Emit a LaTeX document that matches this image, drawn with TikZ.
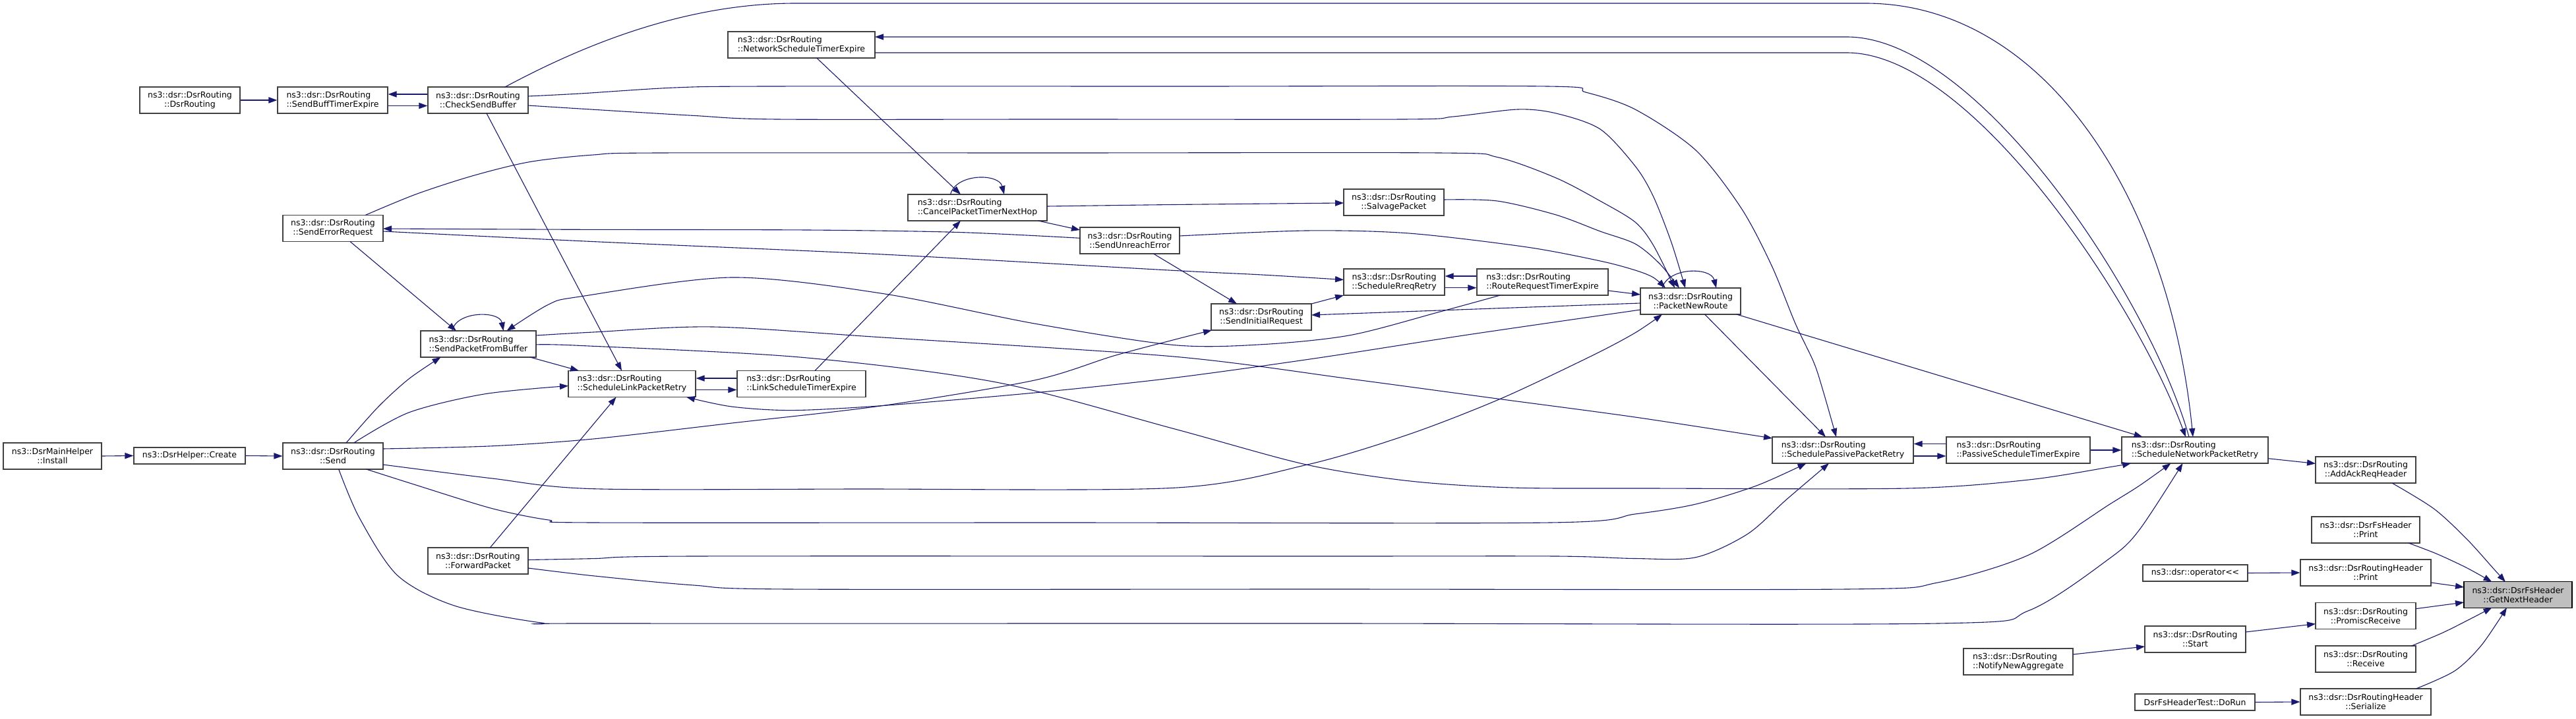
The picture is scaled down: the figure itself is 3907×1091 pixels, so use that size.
\documentclass[tikz,border=0pt]{standalone}
\usepackage{fontspec}
\usetikzlibrary{arrows.meta,calc}
\newfontfamily\dejavu{DejaVu Sans}
\newcommand\gfont{\dejavu\fontsize{6.25pt}{7pt}\selectfont}
\definecolor{mblue}{HTML}{191970}
\definecolor{nborder}{HTML}{404040}
\definecolor{rootfill}{HTML}{BFBFBF}
\tikzset{
  fn/.style={draw=nborder, line width=0.6pt, fill=white, inner sep=0pt, minimum height=20pt, font=\gfont, align=center, text=black},
  fnl/.style={fn, align=left},
  one/.style={minimum height=12.5pt},
  ed/.style={draw=mblue, line width=0.55pt, -{Triangle[length=6.5pt,width=4.6pt]}},
}
\begin{document}
\begin{tikzpicture}[x=0.5pt,y=-0.5pt]
\path[use as bounding box, fill=white] (0,0) rectangle (3907,1091);

% nodes
\node[fn, minimum width=74.5pt] (Install) at (79.5,692) {ns3::DsrMainHelper\\::Install};
\node[fn, one, minimum width=84.5pt] (Create) at (287.5,691.5) {ns3::DsrHelper::Create};
\node[fn, minimum width=76pt] (Send) at (505,692) {ns3::dsr::DsrRouting\\::Send};
\node[fn, minimum width=76pt] (DsrR) at (288,152) {ns3::dsr::DsrRouting\\::DsrRouting};
\node[fnl, minimum width=83.5pt] (SBTE) at (504.5,152) {ns3::dsr::DsrRouting\\::SendBuffTimerExpire};
\node[fn, minimum width=76pt] (CSB) at (725,152) {ns3::dsr::DsrRouting\\::CheckSendBuffer};
\node[fn, minimum width=76pt] (SER) at (505,346.5) {ns3::dsr::DsrRouting\\::SendErrorRequest};
\node[fnl, minimum width=87.5pt] (SPFB) at (725.5,522) {ns3::dsr::DsrRouting\\::SendPacketFromBuffer};
\node[fn, minimum width=76pt] (FP) at (725,851) {ns3::dsr::DsrRouting\\::ForwardPacket};
\node[fnl, minimum width=96.5pt] (SLPR) at (958.5,582.5) {ns3::dsr::DsrRouting\\::ScheduleLinkPacketRetry};
\node[fnl, minimum width=97.5pt] (LSTE) at (1215.5,582.5) {ns3::dsr::DsrRouting\\::LinkScheduleTimerExpire};
\node[fnl, minimum width=111.5pt] (NSTE) at (1215.5,68) {ns3::dsr::DsrRouting\\::NetworkScheduleTimerExpire};
\node[fnl, minimum width=105.5pt] (CPTNH) at (1482.5,315) {ns3::dsr::DsrRouting\\::CancelPacketTimerNextHop};
\node[fn, minimum width=75.5pt] (SUE) at (1713.5,365) {ns3::dsr::DsrRouting\\::SendUnreachError};
\node[fn, minimum width=76pt] (SP) at (2114,307) {ns3::dsr::DsrRouting\\::SalvagePacket};
\node[fn, minimum width=76.5pt] (SRR) at (2114.5,428) {ns3::dsr::DsrRouting\\::ScheduleRreqRetry};
\node[fnl, minimum width=99.5pt] (RRTE) at (2339.5,428) {ns3::dsr::DsrRouting\\::RouteRequestTimerExpire};
\node[fn, minimum width=76pt] (SIR) at (1913,481) {ns3::dsr::DsrRouting\\::SendInitialRequest};
\node[fn, minimum width=76pt] (PNR) at (2564,457) {ns3::dsr::DsrRouting\\::PacketNewRoute};
\node[fnl, minimum width=107pt] (SPPR) at (2795,683) {ns3::dsr::DsrRouting\\::SchedulePassivePacketRetry};
\node[fnl, minimum width=109pt] (PSTE) at (3061,683) {ns3::dsr::DsrRouting\\::PassiveScheduleTimerExpire};
\node[fnl, minimum width=83pt] (NNA) at (3061,1004) {ns3::dsr::DsrRouting\\::NotifyNewAggregate};
\node[fnl, minimum width=111pt] (SNPR) at (3329,683) {ns3::dsr::DsrRouting\\::ScheduleNetworkPacketRetry};
\node[fn, minimum width=76pt] (AARH) at (3588,713) {ns3::dsr::DsrRouting\\::AddAckReqHeader};
\node[fn, minimum width=82pt] (FSPrint) at (3588,804) {ns3::dsr::DsrFsHeader\\::Print};
\node[fn, one, minimum width=79.5pt] (OpLL) at (3329.5,869.5) {ns3::dsr::operator<{}<};
\node[fn, minimum width=99pt] (RHPrint) at (3588,869) {ns3::dsr::DsrRoutingHeader\\::Print};
\node[fn, draw=black, fill=rootfill, minimum width=82pt] (GNH) at (3819,902.5) {ns3::dsr::DsrFsHeader\\::GetNextHeader};
\node[fn, minimum width=76pt] (PR) at (3588,934.5) {ns3::dsr::DsrRouting\\::PromiscReceive};
\node[fn, minimum width=76.5pt] (Start) at (3329.5,970) {ns3::dsr::DsrRouting\\::Start};
\node[fn, minimum width=76pt] (Recv) at (3588,1000) {ns3::dsr::DsrRouting\\::Receive};
\node[fn, one, minimum width=91pt] (DoRun) at (3329,1065.5) {DsrFsHeaderTest::DoRun};
\node[fn, minimum width=99pt] (Ser) at (3588,1065) {ns3::dsr::DsrRoutingHeader\\::Serialize};

% straight / short edges
\draw[ed] (Install.east) -- (Create.west);
\draw[ed] (Create.east) -- (Send.west);
\draw[ed] (DsrR.east) -- (SBTE.west);
\draw[ed] ($(CSB.west)+(0,-9)$) -- ($(SBTE.east)+(0,-9)$);
\draw[ed] ($(SBTE.east)+(0,8.5)$) -- ($(CSB.west)+(0,8.5)$);
\draw[ed] ($(LSTE.west)+(0,-8.5)$) -- ($(SLPR.east)+(0,-8.5)$);
\draw[ed] ($(SLPR.east)+(0,9)$) -- ($(LSTE.west)+(0,9)$);
\draw[ed] ($(RRTE.west)+(0,-9)$) -- ($(SRR.east)+(0,-9)$);
\draw[ed] ($(SRR.east)+(0,8.7)$) -- ($(RRTE.west)+(0,8.7)$);
\draw[ed] ($(PSTE.west)+(0,-9.5)$) -- ($(SPPR.east)+(0,-9.5)$);
\draw[ed] ($(SPPR.east)+(0,9)$) -- ($(PSTE.west)+(0,9)$);
\draw[ed] (PSTE.east) -- (SNPR.west);
\draw[ed] ($(SNPR)+(111,12.7)$) -- ($(AARH)+(-76,-9.6)$);
\draw[ed] (OpLL.east) -- (RHPrint.west);
\draw[ed] (DoRun.east) -- (Ser.west);
\draw[ed] ($(RHPrint)+(99,15)$) -- ($(GNH)+(-82,-11.5)$);
\draw[ed] ($(PR)+(76,-10.8)$) -- ($(GNH)+(-82,11.5)$);
\draw[ed] ($(Start)+(76.5,-11)$) -- ($(PR)+(-76,12.1)$);
\draw[ed] ($(NNA)+(83,-11)$) -- ($(Start)+(-76.5,11)$);
\draw[ed] plot[smooth] coordinates {($(AARH)+(40,20)$) (3691.5,772) (3741,817.6) (3782,863) ($(GNH)+(-19,-19.5)$)};
\draw[ed] plot[smooth] coordinates {($(FSPrint)+(65,20)$) (3696,840.5) (3741,861.5) ($(GNH)+(-39.5,-19.5)$)};
\draw[ed] plot[smooth] coordinates {($(Recv)+(69.7,-20)$) (3705,960) (3745,940) ($(GNH)+(-39.5,19.5)$)};
\draw[ed] plot[smooth] coordinates {($(Ser)+(76.4,-20)$) (3723,1018) (3763.6,979) ($(GNH)+(-17,19.5)$)};

% self loops
\draw[ed] ($(CPTNH)+(-41,-20)$) .. controls (1450,262.7) and (1515,262.7) .. ($(CPTNH)+(40.5,-20)$);
\draw[ed] ($(SPFB)+(-40,-20)$) .. controls (692,471.3) and (758,471.3) .. ($(SPFB)+(38,-20)$);
\draw[ed] ($(PNR)+(-43,-20)$) .. controls (2530,405) and (2595,405) .. ($(PNR)+(39,-20)$);

% CheckSendBuffer edges
\draw[ed] ($(CSB)+(41,-20)$) .. controls (900,60) and (1050,5) .. (1207,5) -- (2829,5) .. controls (3100,5) and (3290,300) .. ($(SNPR)+(-3,-20)$);
\draw[ed] plot[smooth] coordinates {($(CSB)+(76,8)$) (880,165) (1052,175.4) (1178,181) (1600,181) (2128,181) (2204,177) (2302,166) (2360,172) (2427,196) (2480,252) (2507.5,298) (2535,368) ($(PNR)+(-8,-20)$)};
\draw[ed] plot[smooth] coordinates {($(CSB)+(76,-6)$) (880,142) (1023.5,133) (1167,131) (1800,131) (2347,131) (2405,140) (2480,166) (2572,228) (2641,316) (2687,403) (2723,491) (2751,550) (2765,593) ($(SPPR)+(-10,-20)$)};
\draw[ed] ($(CSB)+(13,20)$) -- ($(SLPR)+(-15.5,-20)$);

% NetworkScheduleTimerExpire edges
\draw[ed] ($(SNPR)+(-9,-20)$) .. controls (3260,450) and (3000,56) .. (2801,56) -- ($(NSTE)+(111.5,-12)$);
\draw[ed] ($(NSTE)+(111.5,12)$) -- (2801,80) .. controls (2990,80) and (3240,460) .. ($(SNPR)+(-14,-20)$);
\draw[ed] ($(NSTE)+(23.2,20)$) -- ($(CPTNH)+(-25.5,-20)$);

% CancelPacketTimerNextHop edges
\draw[ed] plot[smooth] coordinates {($(CPTNH)+(105.5,-2)$) (1780,310.5) ($(SP)+(-76,1)$)};
\draw[ed] ($(CPTNH)+(92,20)$) -- ($(SUE)+(-75.5,-16)$);
\draw[ed] ($(LSTE)+(20.5,-20)$) -- ($(CPTNH)+(-25.5,20)$);

% SendErrorRequest / SendUnreachError
\draw[ed] plot[smooth] coordinates {($(SER)+(49,-20)$) (631,294.7) (717.5,266.6) (803.6,245.6) (900,235) (1000,232) (1600,232) (2182,232) (2271,238.5) (2360,270) (2427,305) (2480,337) (2507.5,372) ($(PNR)+(-24,-20)$)};
\draw[ed] plot[smooth] coordinates {($(SUE)+(-75.5,-3.7)$) (1454,352.5) (1224,349) (880,348.3) ($(SER)+(76,0.5)$)};
\draw[ed] plot[smooth] coordinates {($(SER)+(76,4.5)$) (900,366.6) (1339,386) (1780,410.4) (1914,417) ($(SRR)+(-76.5,-3.5)$)};
\draw[ed] ($(SER)+(26,20)$) -- ($(SPFB)+(-33.5,-20)$);
\draw[ed] plot[smooth] coordinates {($(SUE)+(36,20)$) (1780,403.4) ($(SIR)+(-37,-20)$)};
\draw[ed] plot[smooth] coordinates {($(SUE)+(75.5,-7)$) (1981,350) (2137,354) (2316,375) (2427,396) (2480,410) (2507.5,421) ($(PNR)+(-38,-20)$)};

% SalvagePacket, SendInitialRequest, RouteRequestTimerExpire
\draw[ed] plot[smooth] coordinates {($(SP)+(76,-4)$) (2271,305) (2360,326) (2427,351) (2480,370) (2517,400) ($(PNR)+(-17,-20)$)};
\draw[ed] ($(SIR)+(76,-20)$) -- ($(SRR)+(-76.5,20)$);
\draw[ed] ($(RRTE)+(99.5,13)$) -- ($(PNR)+(-76,-10)$);
\draw[ed] plot[smooth] coordinates {($(RRTE)+(-64,20)$) (2182,473.6) (2048,508.6) (1914,522.7) (1780,523.5) (1569,491) (1339,445.5) (1110,421) (880,450) (832,462) ($(SPFB)+(43,-20)$)};

% PacketNewRoute out-edges
\draw[ed] ($(PNR)+(-76,3)$) -- ($(SIR)+(76,-3)$);
\draw[ed] plot[smooth] coordinates {($(PNR)+(-76,13)$) (2226,508) (2000,543) (1780,573.4) (1569,596) (1339,615.5) (1201.5,622.6) (1109.6,617) ($(SLPR)+(82.5,20)$)};
\draw[ed] ($(PNR)+(21.6,20)$) -- ($(SPPR)+(-26,-20)$);
\draw[ed] ($(PNR)+(69.8,20)$) -- ($(SNPR)+(-79.4,-20)$);

% SendPacketFromBuffer out-edges
\draw[ed] plot[smooth] coordinates {($(SPFB)+(87.5,-13)$) (900,504) (1081,496) (1339,512) (1780,541) (2048,575) (2271,605) (2480,633) ($(SPPR)+(-107,-18)$)};
\draw[ed] plot[smooth] coordinates {($(SPFB)+(87.5,1)$) (880,524.4) (1213,542) (1511,580) (1780,650.5) (1981,705) (2137,729.8) (2293,740) (2500,741) (2893,741) (3077,728) (3200,708.7) ($(SNPR)+(-97,20)$)};
\draw[ed] ($(SPFB)+(78.5,20)$) -- ($(SLPR)+(-80.5,-20)$);

% Send out-edges
\draw[ed] plot[smooth] coordinates {($(Send)+(20,-20)$) (574,617) (620,575) ($(SPFB)+(-57,20)$)};
\draw[ed] plot[smooth] coordinates {($(Send)+(31.7,-20)$) (620,626) (734.7,597.9) ($(SLPR)+(-96.5,3)$)};
\draw[ed] plot[smooth] coordinates {($(Send)+(76,-11)$) (746,676.8) (900,666) (1110,642) (1339,615.5) (1569,577) (1689,540) (1780,515.7) ($(SIR)+(-75,20)$)};
\draw[ed] plot[smooth] coordinates {($(Send)+(76,13)$) (746,725.9) (900,741.7) (1300,742) (1780,740.3) (1983,705) (2137,659) (2276,605) (2414,540) (2480,505) ($(PNR)+(-43,20)$)};
\draw[ed] plot[smooth] coordinates {($(Send)+(50.6,20)$) (631,736) (746,771.5) (832,789) (900,793) (1600,793) (2351,793) (2480,780) (2572,765) (2664,737) ($(SPPR)+(-55.5,20)$)};
\draw[ed] plot[smooth] coordinates {($(Send)+(8.7,20)$) (545,785.6) (602.7,873) (689,919) (821,945) (900,946) (2000,946) (2939,946) (3077,926.5) (3200,847) (3245,803.6) ($(SNPR)+(-18.5,20)$)};

% ForwardPacket out-edges
\draw[ed] ($(FP)+(18.3,-20)$) -- ($(SLPR)+(-24,20)$);
\draw[ed] plot[smooth] coordinates {($(FP)+(76,-1.5)$) (900,847.6) (1052,844) (2000,844) (2360,844) (2480,847.5) (2572,845.7) (2650,810.6) (2709.6,757.9) ($(SPPR)+(-21,20)$)};
\draw[ed] plot[smooth] coordinates {($(FP)+(76,11)$) (900,873.8) (1052,888) (1196,894) (2000,894) (2801,894) (2939,884) (3077,842) (3200,765) (3245,736.8) ($(SNPR)+(-36.6,20)$)};
\end{tikzpicture}
\end{document}
